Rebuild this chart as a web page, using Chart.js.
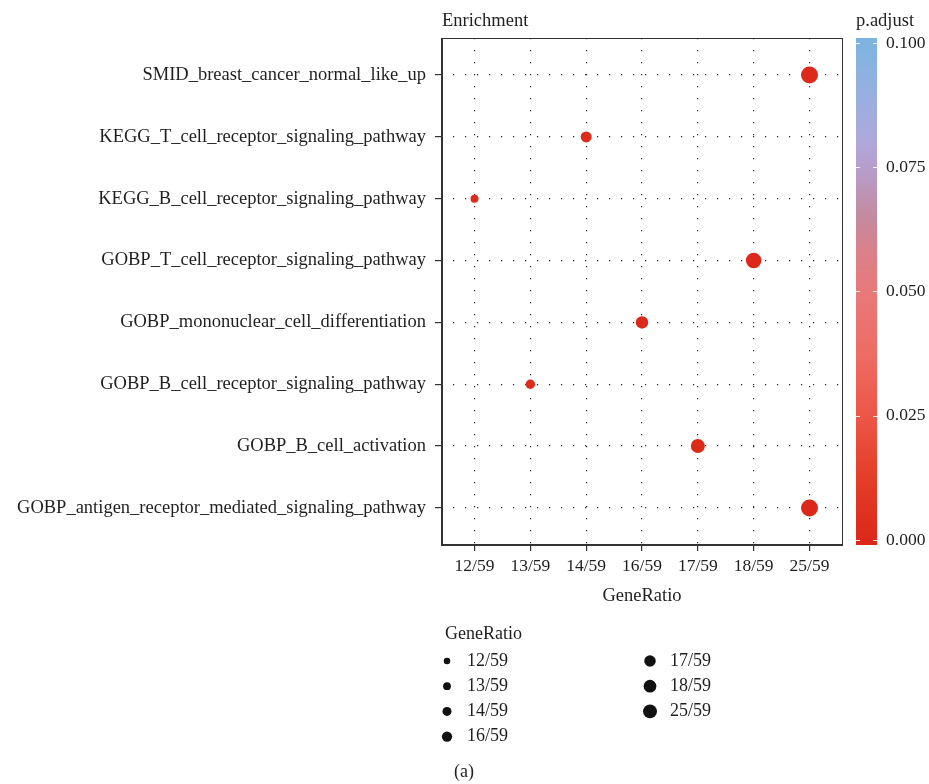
<!DOCTYPE html>
<html>
<head>
<meta charset="utf-8">
<script src="https://cdn.jsdelivr.net/npm/chart.js@4.4.1/dist/chart.umd.min.js"></script>
<style>
  html, body { margin: 0; padding: 0; background: #fff; }
  #wrap { width: 929px; height: 784px; }
</style>
</head>
<body>
<div id="wrap"><canvas id="chart" width="929" height="784"></canvas></div>
<script>
// Pathways, top to bottom
const pathways = [
  'SMID_breast_cancer_normal_like_up',
  'KEGG_T_cell_receptor_signaling_pathway',
  'KEGG_B_cell_receptor_signaling_pathway',
  'GOBP_T_cell_receptor_signaling_pathway',
  'GOBP_mononuclear_cell_differentiation',
  'GOBP_B_cell_receptor_signaling_pathway',
  'GOBP_B_cell_activation',
  'GOBP_antigen_receptor_mediated_signaling_pathway'
];
// GeneRatio per pathway, and the ordered levels on the x axis
const geneRatio = ['25/59', '14/59', '12/59', '18/59', '16/59', '13/59', '17/59', '25/59'];
const ratioLevels = ['12/59', '13/59', '14/59', '16/59', '17/59', '18/59', '25/59'];
// adjusted p values (all very close to zero)
const pAdjust = [0.0008, 0.0012, 0.0020, 0.0005, 0.0007, 0.0016, 0.0004, 0.00002];
const pTicks = [0, 0.025, 0.05, 0.075, 0.1];

const FONT = '"Liberation Serif", "DejaVu Serif", serif';
const INK = '#1f1f1f';

// colour ramp for p.adjust (value -> rgb)
const ramp = [
  [0.000, [220, 40, 26]],
  [0.0125, [228, 62, 40]],
  [0.025, [236, 86, 70]],
  [0.0375, [238, 108, 100]],
  [0.050, [232, 121, 122]],
  [0.058, [219, 128, 138]],
  [0.065, [196, 138, 158]],
  [0.072, [186, 152, 192]],
  [0.080, [176, 168, 220]],
  [0.090, [150, 176, 224]],
  [0.100, [126, 180, 224]]
];
function pColor(v) {
  if (v <= ramp[0][0]) return 'rgb(' + ramp[0][1].join(',') + ')';
  for (let i = 1; i < ramp.length; i++) {
    if (v <= ramp[i][0]) {
      const t = (v - ramp[i - 1][0]) / (ramp[i][0] - ramp[i - 1][0]);
      const a = ramp[i - 1][1], b = ramp[i][1];
      return 'rgb(' + a.map((c, k) => Math.round(c + (b[k] - c) * t)).join(',') + ')';
    }
  }
  return 'rgb(' + ramp[ramp.length - 1][1].join(',') + ')';
}

// ordinal size scale: GeneRatio level -> radius in px
function sizeFor(level) {
  const i = ratioLevels.indexOf(level);
  return 4 + (8.5 - 4) * i / (ratioLevels.length - 1);
}

const points = pathways.map((p, i) => ({
  x: ratioLevels.indexOf(geneRatio[i]),
  y: i,
  r: sizeFor(geneRatio[i])
}));

const decor = {
  id: 'decor',
  afterDraw(chart) {
    const { ctx, chartArea: a } = chart;
    ctx.save();
    // panel frame
    ctx.strokeStyle = '#333';
    ctx.lineWidth = 1;
    ctx.strokeRect(a.left + 0.5, a.top + 0.5, a.right - a.left - 1, a.bottom - a.top - 1);
    ctx.lineWidth = 2;
    ctx.beginPath();
    ctx.moveTo(a.left + 1, a.top);
    ctx.lineTo(a.left + 1, a.bottom);
    ctx.lineTo(a.right, a.bottom);
    ctx.stroke();

    // titles
    ctx.fillStyle = INK;
    ctx.font = '18.5px ' + FONT;
    ctx.textBaseline = 'middle';
    ctx.textAlign = 'left';
    ctx.fillText('Enrichment', a.left + 1, 21);

    // colour bar
    const p = chart.scales.p;
    const bx = p.left + 13, bw = 21;
    ctx.fillText('p.adjust', bx, 21);
    const y0 = p.getPixelForValue(p.min), y1 = p.getPixelForValue(p.max);
    const grad = ctx.createLinearGradient(0, y0, 0, y1);
    ramp.forEach(([v, c]) => {
      const pos = Math.min(1, Math.max(0, (v - p.min) / (p.max - p.min)));
      grad.addColorStop(pos, 'rgb(' + c.join(',') + ')');
    });
    grad.addColorStop(0, pColor(0));
    grad.addColorStop(1, pColor(0.1));
    ctx.fillStyle = grad;
    ctx.fillRect(bx, a.top, bw, a.bottom - a.top);
    ctx.strokeStyle = 'rgba(255,255,255,0.9)';
    ctx.lineWidth = 1;
    pTicks.forEach(v => {
      const y = Math.round(p.getPixelForValue(v)) + 0.5;
      ctx.beginPath();
      ctx.moveTo(bx, y); ctx.lineTo(bx + 4, y);
      ctx.moveTo(bx + bw - 4, y); ctx.lineTo(bx + bw, y);
      ctx.stroke();
    });

    // size legend
    ctx.fillStyle = INK;
    ctx.font = '18px ' + FONT;
    ctx.fillText('GeneRatio', 445, 634);
    ratioLevels.forEach((lv, i) => {
      const col = i < 4 ? 0 : 1;
      const row = col ? i - 4 : i;
      const cx = col ? 650 : 447;
      const cy = 661 + row * 25.2;
      ctx.fillStyle = '#111';
      ctx.beginPath();
      ctx.arc(cx, cy, sizeFor(lv) * 0.82, 0, Math.PI * 2);
      ctx.fill();
      ctx.fillStyle = INK;
      ctx.fillText(lv, cx + 20, cy);
    });

    ctx.fillText('(a)', 454, 772);
    ctx.restore();
  }
};

new Chart(document.getElementById('chart'), {
  type: 'bubble',
  data: {
    datasets: [{
      data: points,
      backgroundColor: pAdjust.map(pColor),
      borderWidth: 0,
      hoverRadius: 0
    }]
  },
  options: {
    responsive: false,
    animation: false,
    layout: { autoPadding: false, padding: { top: 38, bottom: 177, left: 0, right: 0 } },
    plugins: { legend: { display: false }, tooltip: { enabled: false } },
    scales: {
      x: {
        type: 'linear',
        min: -0.6,
        max: ratioLevels.length - 0.4,
        afterBuildTicks: s => { s.ticks = ratioLevels.map((_, i) => ({ value: i })); },
        afterFit: s => { s.height = 62; },
        ticks: {
          autoSkip: false,
          maxRotation: 0,
          padding: 5,
          color: INK,
          font: { family: FONT, size: 17.5 },
          callback: v => ratioLevels[v]
        },
        grid: { color: '#2a2a2a', lineWidth: 1.2, tickLength: 6, tickColor: '#333', tickBorderDash: [] },
        border: { display: false, dash: [1.2, 10.8] },
        title: { display: true, text: 'GeneRatio', color: INK, font: { family: FONT, size: 18.5 }, padding: { top: 0, bottom: 0 } }
      },
      y: {
        type: 'linear',
        reverse: true,
        min: -0.6,
        max: pathways.length - 0.4,
        afterBuildTicks: s => { s.ticks = pathways.map((_, i) => ({ value: i })); },
        afterFit: s => { s.width = 441; },
        ticks: {
          autoSkip: false,
          padding: 9,
          color: INK,
          font: { family: FONT, size: 18.5 },
          callback: v => pathways[v]
        },
        grid: { color: '#2a2a2a', lineWidth: 1.2, tickLength: 6, tickColor: '#333', tickBorderDash: [] },
        border: { display: false, dash: [1.2, 10.8] }
      },
      p: {
        type: 'linear',
        position: 'right',
        min: -0.001006,
        max: 0.101006,
        afterBuildTicks: s => { s.ticks = pTicks.map(v => ({ value: v })); },
        afterFit: s => { s.width = 86; },
        ticks: {
          padding: 2,
          color: INK,
          font: { family: FONT, size: 17.5 },
          callback: v => v.toFixed(3)
        },
        // tick marks hidden; tickLength only pushes the labels past the colour bar
        grid: { display: false, drawTicks: true, tickLength: 41 },
        border: { display: false }
      }
    }
  },
  plugins: [decor]
});
</script>
</body>
</html>
